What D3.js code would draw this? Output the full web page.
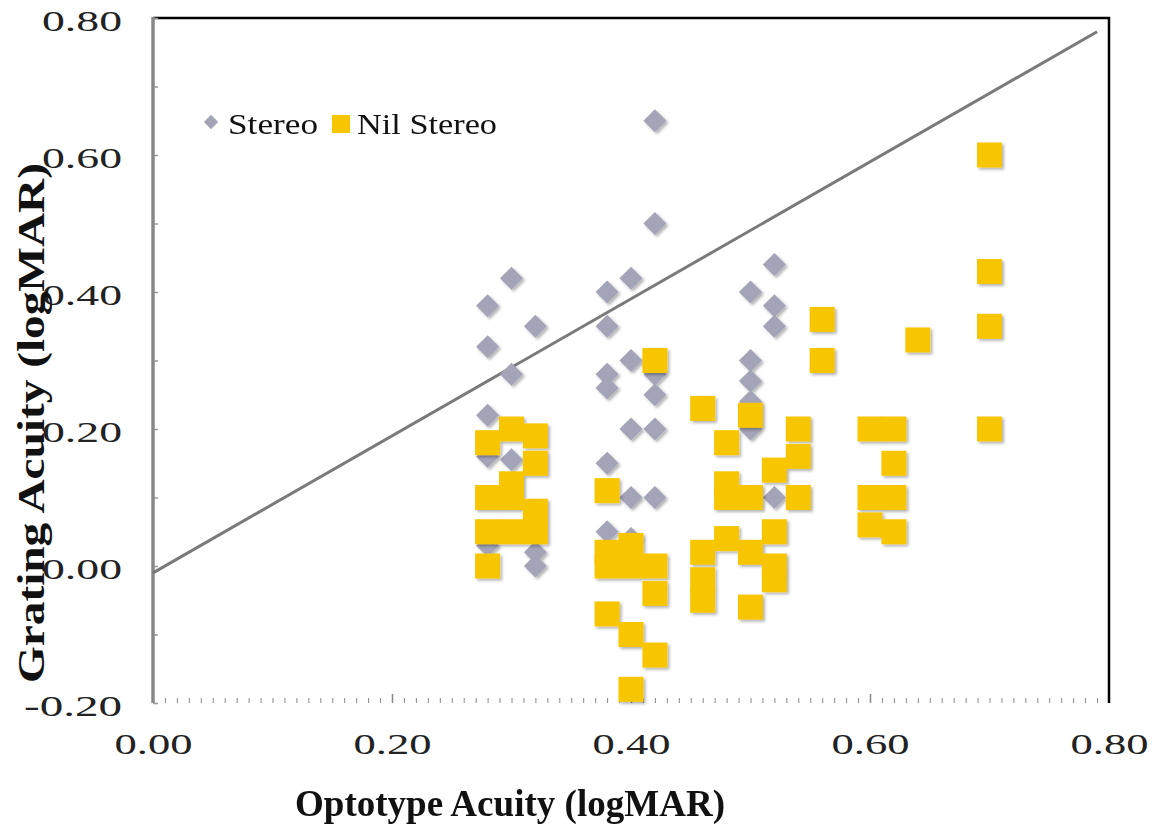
<!DOCTYPE html>
<html>
<head>
<meta charset="utf-8">
<script src="https://cdn.jsdelivr.net/npm/d3@7"></script>
<style>
  body { margin: 0; background: #fff; }
  text { font-family: "Liberation Serif", "Times New Roman", serif; }
</style>
</head>
<body>
<div id="container"></div>
<script>
/* CONSTANTS AND GLOBALS */
const width = 1157;
const height = 832;
const margin = { top: 18, right: 44, bottom: 129, left: 153 };

/* DATA (logMAR) */
// Stereo: [optotype, grating]
const stereoPoints = [
  [0.28, 0.38], [0.28, 0.32], [0.28, 0.22], [0.28, 0.16], [0.28, 0.03],
  [0.30, 0.42], [0.30, 0.28], [0.30, 0.155],
  [0.32, 0.35], [0.32, 0.02], [0.32, 0.00],
  [0.38, 0.40], [0.38, 0.35], [0.38, 0.28], [0.38, 0.26], [0.38, 0.15], [0.38, 0.05],
  [0.40, 0.42], [0.40, 0.30], [0.40, 0.20], [0.40, 0.10], [0.40, 0.04],
  [0.42, 0.65], [0.42, 0.50], [0.42, 0.28], [0.42, 0.25], [0.42, 0.20], [0.42, 0.10],
  [0.50, 0.40], [0.50, 0.30], [0.50, 0.27], [0.50, 0.24], [0.50, 0.20],
  [0.52, 0.44], [0.52, 0.38], [0.52, 0.35], [0.52, 0.10]
];

// Nil Stereo: [optotype, grating]
const nilStereoPoints = [
  [0.28, 0.18], [0.28, 0.10], [0.28, 0.05], [0.28, 0.00],
  [0.30, 0.20], [0.30, 0.12], [0.30, 0.10], [0.30, 0.05],
  [0.32, 0.19], [0.32, 0.15], [0.32, 0.08], [0.32, 0.05],
  [0.38, 0.11], [0.38, 0.02], [0.38, 0.00], [0.38, -0.07],
  [0.40, 0.03], [0.40, 0.00], [0.40, -0.10], [0.40, -0.18],
  [0.42, 0.30], [0.42, 0.00], [0.42, -0.04], [0.42, -0.13],
  [0.46, 0.23], [0.46, 0.02], [0.46, -0.02], [0.46, -0.05],
  [0.48, 0.18], [0.48, 0.12], [0.48, 0.10], [0.48, 0.04],
  [0.50, 0.22], [0.50, 0.10], [0.50, 0.02], [0.50, -0.06],
  [0.52, 0.14], [0.52, 0.05], [0.52, 0.00], [0.52, -0.02],
  [0.54, 0.20], [0.54, 0.16], [0.54, 0.10],
  [0.56, 0.36], [0.56, 0.30],
  [0.60, 0.20], [0.60, 0.10], [0.60, 0.06],
  [0.62, 0.20], [0.62, 0.15], [0.62, 0.10], [0.62, 0.05],
  [0.64, 0.33],
  [0.70, 0.60], [0.70, 0.43], [0.70, 0.35], [0.70, 0.20]
];

// reference line ends
const refLine = [[0.00, -0.01], [0.79, 0.78]];

const xTicks = [0, 0.2, 0.4, 0.6, 0.8];
const yTicks = [-0.2, 0, 0.2, 0.4, 0.6, 0.8];
const legendLabels = ["Stereo", "Nil Stereo"];

/* SCALES */
const xScale = d3.scaleLinear()
  .domain([0, 0.8])
  .range([margin.left, width - margin.right - 4])

const yScale = d3.scaleLinear()
  .domain([-0.2, 0.8])
  .range([height - margin.bottom, margin.top])

// plain hyphen for negatives, like the original
const fmt = d => d3.format(".2f")(d).replace("\u2212", "-")

/* SVG */
const svg = d3.select("#container")
  .append("svg")
  .attr("width", width)
  .attr("height", height)

const defs = svg.append("defs")
defs.append("filter")
  .attr("id", "shadow")
  .attr("x", "-30%").attr("y", "-30%").attr("width", "160%").attr("height", "160%")
  .append("feDropShadow")
  .attr("dx", 2).attr("dy", 2).attr("stdDeviation", 1.4)
  .attr("flood-color", "#000").attr("flood-opacity", 0.3)

const x0 = xScale(0), x1 = xScale(0.8), y0 = yScale(-0.2), y1 = yScale(0.8)

// top and right frame
svg.append("path")
  .attr("d", `M${x0},${y1}H${x1}V${y0}`)
  .attr("fill", "none")
  .attr("stroke", "#000")
  .attr("stroke-width", 2.5)

// y axis: labels
const yAxis = svg.append("g")
  .attr("transform", `translate(${x0},0)`)
  .call(d3.axisLeft(yScale).tickValues(yTicks).tickSize(0).tickPadding(31).tickFormat(fmt))
yAxis.select(".domain").remove()
yAxis.selectAll("text")
  .attr("dy", "0.42em")
  .attr("font-size", 30)
  .attr("fill", "#222")
  .attr("font-family", "Liberation Serif")
  .attr("textLength", d => d < 0 ? 98 : 80)
  .attr("lengthAdjust", "spacingAndGlyphs")

// y axis minor ticks (inside)
const yMinor = svg.append("g")
  .attr("transform", `translate(${x0},0)`)
  .call(d3.axisRight(yScale).tickValues(d3.range(-2, 9).map(d => d / 10)).tickSize(5).tickFormat(""))
yMinor.select(".domain").remove()
yMinor.selectAll("line").attr("stroke", "#999").attr("stroke-width", 1.5)

// x axis: labels
const xAxis = svg.append("g")
  .attr("transform", `translate(0,${y0})`)
  .call(d3.axisBottom(xScale).tickValues(xTicks).tickSize(0).tickPadding(30).tickFormat(fmt))
xAxis.select(".domain").remove()
xAxis.selectAll("text")
  .attr("font-size", 30)
  .attr("fill", "#222")
  .attr("font-family", "Liberation Serif")
  .attr("textLength", 78)
  .attr("lengthAdjust", "spacingAndGlyphs")

// x axis minor ticks (pointing up)
const xMinor = svg.append("g")
  .attr("transform", `translate(0,${y0})`)
  .call(d3.axisTop(xScale).tickValues(d3.range(1, 80).map(d => d / 100)).tickSize(5).tickFormat(""))
xMinor.select(".domain").remove()
xMinor.selectAll("line")
  .attr("stroke", "#888")
  .attr("stroke-width", d => Math.round(d * 100) % 20 === 0 ? 1.5 : 1)
  .attr("y2", d => Math.round(d * 100) % 20 === 0 ? -9 : -5)

// axis lines
svg.append("line")
  .attr("x1", x0).attr("x2", x0).attr("y1", y1 - 1).attr("y2", y0)
  .attr("stroke", "#888").attr("stroke-width", 3.5)
svg.append("line")
  .attr("x1", x0 - 1.5).attr("x2", x1 + 1).attr("y1", y0).attr("y2", y0)
  .attr("stroke", "#555").attr("stroke-width", 3.5)
  .attr("filter", "url(#shadow)")

// reference line
svg.append("line")
  .attr("x1", xScale(refLine[0][0])).attr("y1", yScale(refLine[0][1]))
  .attr("x2", xScale(refLine[1][0])).attr("y2", yScale(refLine[1][1]))
  .attr("stroke", "#7a7a7a")
  .attr("stroke-width", 3)

/* POINTS */
const diamond = d3.symbol().type(d3.symbolDiamond2).size(340)

svg.append("g")
  .attr("filter", "url(#shadow)")
  .selectAll("path")
  .data(stereoPoints)
  .join("path")
  .attr("d", diamond)
  .attr("transform", d => `translate(${xScale(d[0])},${yScale(d[1])})`)
  .attr("fill", "#a4a4b8")

const sq = 25
svg.append("g")
  .attr("filter", "url(#shadow)")
  .selectAll("rect")
  .data(nilStereoPoints)
  .join("rect")
  .attr("x", d => xScale(d[0]) - sq / 2)
  .attr("y", d => yScale(d[1]) - sq / 2)
  .attr("width", sq)
  .attr("height", sq)
  .attr("fill", "#f7c600")

/* LEGEND */
const legend = svg.append("g")
legend.append("path")
  .attr("d", d3.symbol().type(d3.symbolDiamond2).size(130))
  .attr("transform", "translate(211,122)")
  .attr("fill", "#a4a4b8")
legend.append("text")
  .attr("x", 228).attr("y", 134)
  .attr("font-size", 30)
  .attr("textLength", 90).attr("lengthAdjust", "spacingAndGlyphs")
  .attr("fill", "#111")
  .text(legendLabels[0])
legend.append("rect")
  .attr("x", 332).attr("y", 115).attr("width", 18).attr("height", 18)
  .attr("fill", "#f7c600")
legend.append("text")
  .attr("x", 357).attr("y", 134)
  .attr("font-size", 30)
  .attr("textLength", 140).attr("lengthAdjust", "spacingAndGlyphs")
  .attr("fill", "#111")
  .text(legendLabels[1])

/* AXIS TITLES */
svg.append("text")
  .attr("x", 510).attr("y", 816)
  .attr("text-anchor", "middle")
  .attr("font-size", 38)
  .attr("font-weight", "bold")
  .attr("textLength", 430).attr("lengthAdjust", "spacingAndGlyphs")
  .attr("fill", "#111")
  .text("Optotype Acuity (logMAR)")

svg.append("text")
  .attr("transform", "translate(44,423) rotate(-90)")
  .attr("text-anchor", "middle")
  .attr("font-size", 38)
  .attr("font-weight", "bold")
  .attr("textLength", 520).attr("lengthAdjust", "spacingAndGlyphs")
  .attr("fill", "#111")
  .text("Grating Acuity (logMAR)")
</script>
</body>
</html>
